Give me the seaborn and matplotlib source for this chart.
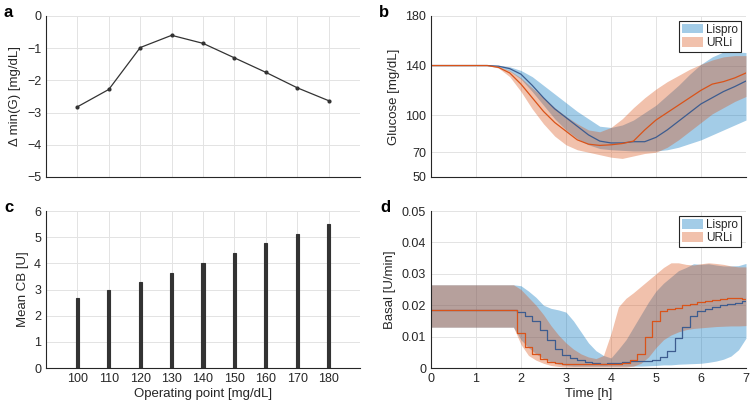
import numpy as np
import pandas as pd
import matplotlib
matplotlib.use("Agg")
import matplotlib.pyplot as plt
import seaborn as sns
from matplotlib.patches import Patch

# ---- data ----
op_points = [100, 110, 120, 130, 140, 150, 160, 170, 180]
delta_min_g = [-2.82, -2.28, -0.98, -0.60, -0.85, -1.30, -1.75, -2.23, -2.63]
mean_cb = [2.67, 2.97, 3.27, 3.62, 4.02, 4.38, 4.76, 5.12, 5.50]

# glucose, every 15 min from 0 to 7 h
t_glu = [i * 0.25 for i in range(29)]
lispro_glu = [140, 140, 140, 140, 140, 140, 139.5, 137.5, 133, 124, 114, 105, 98, 91, 84,
              79, 77.5, 77.5, 78.5, 78.5, 82, 88, 95, 102, 109, 114, 119, 123, 127.5]
lispro_glu_hi = [140, 140, 140, 140, 140, 140, 140, 139, 136, 131, 124, 117, 110, 103, 97,
                 91, 90, 92, 96, 102, 108, 116, 124, 133, 141, 147, 151, 151, 150.5]
lispro_glu_lo = [140, 140, 140, 140, 140, 140, 139, 135.5, 129, 119, 108, 97, 88, 81, 76,
                 73, 72, 71.5, 71, 71, 71, 72, 74, 77, 80, 84, 88, 92, 96]
urli_glu = [140, 140, 140, 140, 140, 140, 138.5, 134, 125, 114, 103, 94, 87, 80, 76.5,
            75.5, 76, 77, 79, 88, 96, 102, 108, 114, 120, 125, 127, 130, 134]
urli_glu_hi = [140, 140, 140, 140, 140, 140, 139, 136, 130, 122, 114, 106, 99, 93, 88,
               86.5, 90, 97, 106, 114, 121, 127, 132, 137, 141, 144.5, 147, 148, 148]
urli_glu_lo = [140, 140, 140, 140, 140, 140, 138, 131, 119, 105, 93, 83, 76, 72, 70,
               68, 66, 65, 67, 69, 70, 74, 80, 87, 94, 101, 106, 111, 115]

# basal rate, every 10 min from 0 to 7 h
t_bas = [i / 6 for i in range(43)]
lispro_bas = [0.0185] * 12 + [0.0178, 0.0165, 0.0150, 0.0120, 0.0090, 0.0062, 0.0042, 0.0032,
              0.0024, 0.0018, 0.0015, 0.0014, 0.0015, 0.0017, 0.0019, 0.0021, 0.0022, 0.0022,
              0.0024, 0.0035, 0.0055, 0.0095, 0.0130, 0.0165, 0.0180, 0.0188, 0.0195, 0.0200,
              0.0203, 0.0208, 0.0213]
lispro_bas_hi = [0.0265] * 12 + [0.0262, 0.0245, 0.0225, 0.0200, 0.0190, 0.0185, 0.0178, 0.0150,
                 0.0115, 0.0080, 0.0055, 0.0040, 0.0032, 0.0060, 0.0090, 0.0130, 0.0170, 0.0210,
                 0.0245, 0.0270, 0.0290, 0.0310, 0.0320, 0.0332, 0.0330, 0.0332, 0.0328, 0.0325,
                 0.0325, 0.0326, 0.0333]
lispro_bas_lo = [0.0130] * 12 + [0.0090, 0.0065, 0.0045, 0.0030, 0.0020, 0.0012, 0.0008, 0.0006,
                 0.0006, 0.0006, 0.0006, 0.0006, 0.0006, 0.0006, 0.0006, 0.0006, 0.0006, 0.0007,
                 0.0008, 0.0010, 0.0010, 0.0012, 0.0013, 0.0014, 0.0015, 0.0018, 0.0022, 0.0028,
                 0.0038, 0.0058, 0.0095]
urli_bas = [0.0185] * 12 + [0.0110, 0.0068, 0.0045, 0.0030, 0.0020, 0.0015, 0.0012, 0.0012,
            0.0012, 0.0012, 0.0012, 0.0013, 0.0013, 0.0014, 0.0017, 0.0024, 0.0045, 0.0100,
            0.0150, 0.0180, 0.0188, 0.0192, 0.0200, 0.0205, 0.0210, 0.0212, 0.0215, 0.0220,
            0.0222, 0.0222, 0.0220]
urli_bas_hi = [0.0265] * 12 + [0.0250, 0.0225, 0.0200, 0.0170, 0.0135, 0.0105, 0.0080, 0.0060,
               0.0045, 0.0035, 0.0030, 0.0040, 0.0110, 0.0195, 0.0222, 0.0240, 0.0260, 0.0280,
               0.0300, 0.0320, 0.0335, 0.0335, 0.0330, 0.0328, 0.0332, 0.0335, 0.0333, 0.0330,
               0.0325, 0.0322, 0.0322]
urli_bas_lo = [0.0130] * 12 + [0.0075, 0.0040, 0.0025, 0.0015, 0.0008, 0.0005, 0.0003, 0.0003,
               0.0003, 0.0003, 0.0003, 0.0003, 0.0003, 0.0003, 0.0003, 0.0006, 0.0015, 0.0035,
               0.0065, 0.0090, 0.0105, 0.0115, 0.0122, 0.0126, 0.0128, 0.0130, 0.0132, 0.0133,
               0.0134, 0.0134, 0.0135]

# ---- style ----
sns.set_style("white")
plt.rcParams["font.family"] = ["Liberation Sans", "DejaVu Sans"]
plt.rcParams["font.size"] = 8.5
txt = "#262626"

blue_fill = "#0072bd"
orange_fill = "#d95319"
blue_line = "#3d5c8f"
orange_line = "#d95319"
fill_alpha = 0.36

fig = plt.figure(figsize=(7.52, 4.04), dpi=100)
ax_a = fig.add_axes([0.0612, 0.5619, 0.4176, 0.3985])
ax_b = fig.add_axes([0.5731, 0.5619, 0.4189, 0.3985])
ax_c = fig.add_axes([0.0612, 0.0891, 0.4176, 0.3886])
ax_d = fig.add_axes([0.5731, 0.0891, 0.4189, 0.3886])


def matlab_axes(ax):
    for s in ["top", "right"]:
        ax.spines[s].set_visible(False)
    for s in ["left", "bottom"]:
        ax.spines[s].set_color(txt)
        ax.spines[s].set_linewidth(0.8)
    ax.tick_params(direction="in", length=3, width=0.7, colors=txt, labelsize=9,
                   labelcolor=txt)
    ax.grid(True, color="#e3e3e3", linewidth=0.7)
    ax.set_axisbelow(True)


# a: delta min glucose
sns.lineplot(x=op_points, y=delta_min_g, ax=ax_a, color="#333333", linewidth=0.9,
             marker="o", markersize=3, markeredgewidth=0)
ax_a.set_xlim(90, 190)
ax_a.set_ylim(-5, 0)
ax_a.set_xticks(op_points)
ax_a.set_xticklabels([])
ax_a.set_yticks([-5, -4, -3, -2, -1, 0])
ax_a.set_ylabel("Δ min(G) [mg/dL]", color=txt, fontsize=9.5)
matlab_axes(ax_a)

# c: mean CB bars
cb_df = pd.DataFrame({"op": op_points, "cb": mean_cb})
sns.barplot(data=cb_df, x="op", y="cb", native_scale=True, width=0.1, color="#333333",
            saturation=1, edgecolor="#333333", linewidth=0.8, ax=ax_c)
ax_c.set_xlim(90, 190)
ax_c.set_ylim(0, 6)
ax_c.set_xticks(op_points)
ax_c.set_xticklabels([str(v) for v in op_points])
ax_c.set_yticks(range(7))
ax_c.set_xlabel("Operating point [mg/dL]", color=txt, fontsize=9.5, labelpad=2)
ax_c.set_ylabel("Mean CB [U]", color=txt, fontsize=9.5)
matlab_axes(ax_c)

# b: glucose
ax_b.fill_between(t_glu, lispro_glu_lo, lispro_glu_hi, color=blue_fill, alpha=fill_alpha,
                  linewidth=0)
ax_b.fill_between(t_glu, urli_glu_lo, urli_glu_hi, color=orange_fill, alpha=fill_alpha,
                  linewidth=0)
sns.lineplot(x=t_glu, y=lispro_glu, ax=ax_b, color=blue_line, linewidth=0.9)
sns.lineplot(x=t_glu, y=urli_glu, ax=ax_b, color=orange_line, linewidth=0.9)
ax_b.set_xlim(0, 7)
ax_b.set_ylim(50, 180)
ax_b.set_xticks(range(8))
ax_b.set_xticklabels([])
ax_b.set_yticks([50, 70, 100, 140, 180])
ax_b.set_ylabel("Glucose [mg/dL]", color=txt, fontsize=9.5)
matlab_axes(ax_b)

# d: basal
ax_d.fill_between(t_bas, lispro_bas_lo, lispro_bas_hi, color=blue_fill,
                  alpha=fill_alpha, linewidth=0)
ax_d.fill_between(t_bas, urli_bas_lo, urli_bas_hi, color=orange_fill,
                  alpha=fill_alpha, linewidth=0)
sns.lineplot(x=t_bas, y=lispro_bas, ax=ax_d, color=blue_line, linewidth=0.9,
             drawstyle="steps-mid")
sns.lineplot(x=t_bas, y=urli_bas, ax=ax_d, color=orange_line, linewidth=0.9,
             drawstyle="steps-mid")
ax_d.set_xlim(0, 7)
ax_d.set_ylim(0, 0.05)
ax_d.set_xticks(range(8))
ax_d.set_yticks([0, 0.01, 0.02, 0.03, 0.04, 0.05])
ax_d.set_yticklabels(["0", "0.01", "0.02", "0.03", "0.04", "0.05"])
ax_d.set_xlabel("Time [h]", color=txt, fontsize=9.5, labelpad=2)
ax_d.set_ylabel("Basal [U/min]", color=txt, fontsize=9.5)
matlab_axes(ax_d)

handles = [Patch(facecolor=blue_fill, alpha=fill_alpha, edgecolor="none", label="Lispro"),
           Patch(facecolor=orange_fill, alpha=fill_alpha, edgecolor="none", label="URLi")]
for ax in (ax_b, ax_d):
    leg = ax.legend(handles=handles, loc="upper right", fontsize=8.5, frameon=True,
                    fancybox=False, framealpha=1, edgecolor="#262626",
                    borderpad=0.25, handlelength=1.8, handleheight=0.9,
                    handletextpad=0.3, labelspacing=0.15, borderaxespad=0.4)
    leg.get_frame().set_linewidth(0.8)

# panel letters
for letter, x, y in [("a", 0.004, 0.958), ("b", 0.504, 0.958),
                     ("c", 0.006, 0.476), ("d", 0.506, 0.476)]:
    fig.text(x, y, letter, fontsize=12, fontweight="bold", color="black", va="baseline")

fig.savefig("out.png", dpi=100)
